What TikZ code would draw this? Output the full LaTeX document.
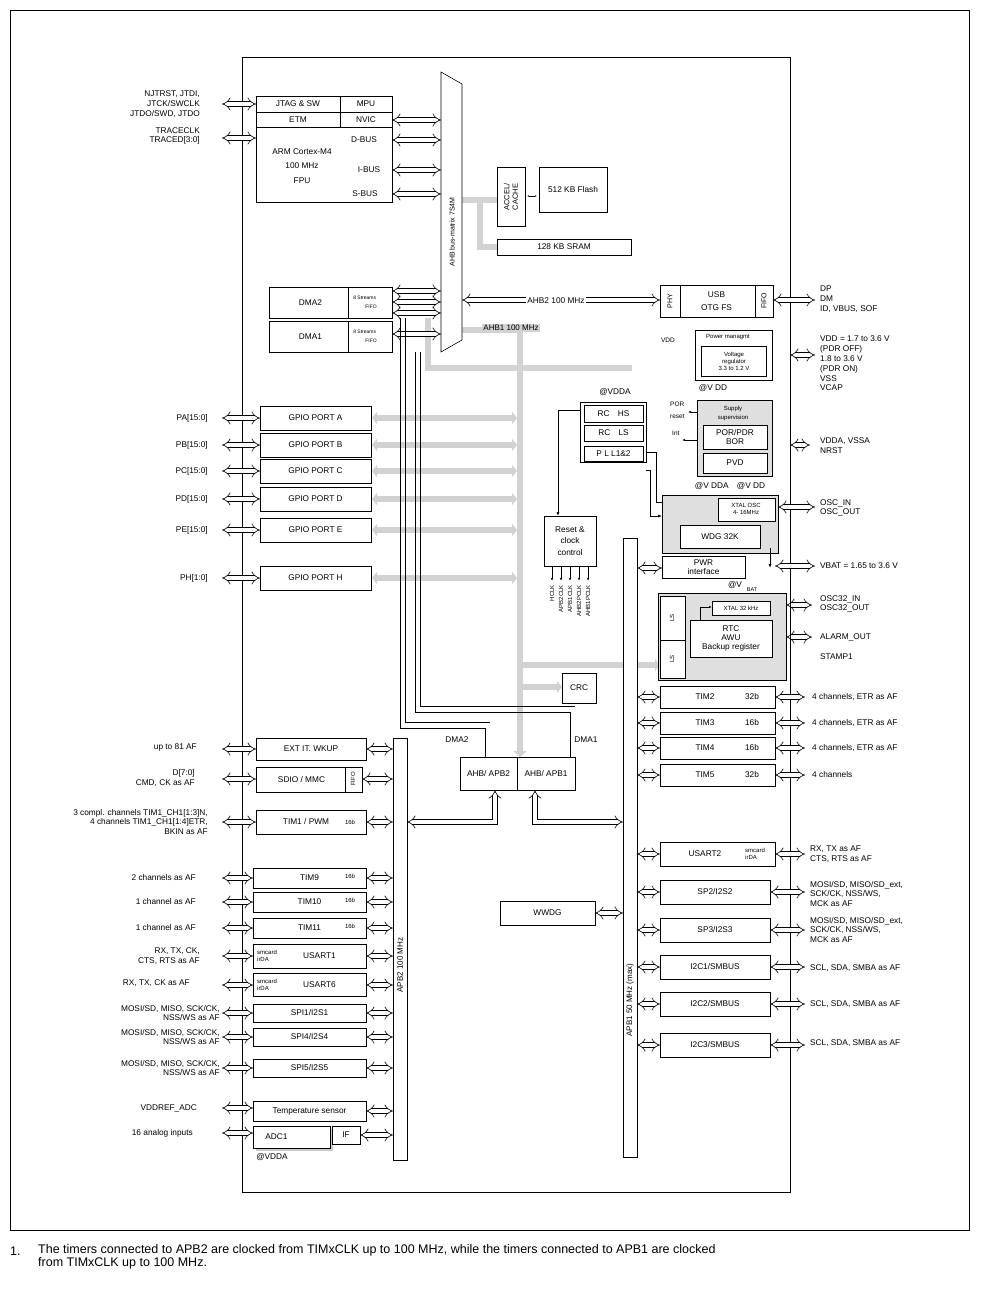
\documentclass[tikz,border=0pt]{standalone}
\usepackage{fontspec}
\setmainfont{Liberation Sans}
\usetikzlibrary{arrows.meta}
\begin{document}
\begin{tikzpicture}[x=1pt,y=-1pt,
 box/.style={draw,fill=white,line width=.6pt,inner sep=0pt,align=center,font=\fontsize{8.3}{9.3}\selectfont},
 gbx/.style={draw,fill=gray!25,line width=.6pt,inner sep=0pt},
 lbl/.style={inner sep=0pt,font=\fontsize{8.3}{9.8}\selectfont,align=left},
 rl/.style={inner sep=0pt,font=\fontsize{8.3}{9.8}\selectfont,align=right,anchor=east},
 tiny/.style={inner sep=0pt,font=\fontsize{5}{6}\selectfont,align=center},
 dbl/.style={draw,double,double distance=4pt,line width=.6pt,{Implies}-{Implies}},
 gbus/.style={draw=gray!35,line width=6pt},
 garr/.style={draw=gray!35,line width=6pt,{Triangle[length=5pt,width=12pt]}-{Triangle[length=5pt,width=12pt]}},
 thin/.style={draw,line width=.6pt}]
\newcommand\bx[6]{\node[box,minimum width={((#4)-(#2))*1pt},minimum height={((#5)-(#3))*1pt}] (#1) at ({((#2)+(#4))/2},{((#3)+(#5))/2}) {#6};}
\useasboundingbox (0,0) rectangle (981,1289);
\fill[white] (0,0) rectangle (981,1289);
\draw[line width=.8pt] (10,10) rectangle (969,1230);
\draw[line width=.8pt] (242,57) rectangle (790,1192);
% footnote
\node[anchor=west,inner sep=0pt,font=\fontsize{12.5}{13}\selectfont] (fn1) at (10,1251) {1.};
\node[anchor=north west,inner sep=0pt,font=\fontsize{12.5}{13.5}\selectfont,align=left] (fn) at (38,1244) {The timers connected to APB2 are clocked from TIMxCLK up to 100 MHz, while the timers connected to APB1 are clocked\\from TIMxCLK up to 100 MHz.};
% grey buses
\draw[gbus] (462,330) -- (520,330);
\draw[gbus,-{Triangle[length=6pt,width=13pt]}] (520,327) -- (520,757);
\draw[gbus] (428,318) -- (428,368) -- (632,368);
\draw[gbus] (462,200) -- (497,200);
\draw[gbus] (480,200) -- (480,247) -- (497,247);
\foreach \y in {418,445,471,499,530,578} \draw[garr] (372,\y) -- (517,\y);
\draw[gbus,-{Triangle[length=5pt,width=12pt]}] (520,665) -- (660,665);
\draw[gbus,-{Triangle[length=5pt,width=12pt]}] (520,687) -- (562,687);
\node[fill=gray!35,inner sep=1pt,font=\fontsize{8}{9}\selectfont] (ahb1) at (511,328) {AHB1 100 MHz};
% CPU
\draw[line width=.6pt] (256,96) rectangle (392,202);
\bx{jtag}{256}{96}{340}{112}{JTAG \& SW}
\bx{mpu}{340}{96}{392}{112}{MPU}
\bx{etm}{256}{112}{340}{127}{ETM}
\bx{nvic}{340}{112}{392}{127}{NVIC}
\node[lbl,align=center] (arm) at (302,166) {ARM Cortex-M4\\[5pt]100 MHz\\[5pt]FPU};
\node[lbl] (dbus) at (364,140) {D-BUS};
\node[lbl] (ibus) at (369,170) {I-BUS};
\node[lbl] (sbus) at (365,194) {S-BUS};
% bus matrix
\draw[line width=.6pt,fill=white] (441,72) -- (462,84) -- (462,340) -- (441,352) -- cycle;
\node[rotate=90,inner sep=0pt,font=\fontsize{7}{8}\selectfont] (mtx) at (452,232) {AHB bus-matrix 7S4M};
\foreach \y in {120,140,170,194} \draw[dbl] (392,\y) -- (441,\y);
\draw[dbl] (222,104) -- (256,104);
\draw[dbl] (222,138) -- (256,138);
\node[rl] (jl) at (200,104) {NJTRST, JTDI,\\JTCK/SWCLK\\JTDO/SWD, JTDO};
\node[rl] (tl) at (200,136) {TRACECLK\\TRACED[3:0]};
% flash
\bx{acc}{497}{167}{525}{226}{}
\node[rotate=90,inner sep=0pt,align=center,font=\fontsize{7.5}{8.5}\selectfont] (acct) at (511,197) {ACCEL/\\CACHE};
\bx{flash}{539}{167}{607}{212}{512 KB Flash}
\draw[line width=.5pt,{Latex[length=2pt]}-{Latex[length=2pt]}] (527,196) -- (537,196);
\bx{sram}{497}{239}{631}{255}{128 KB SRAM}
% USB
\draw[dbl] (462,300) -- (660,300);
\node[lbl,fill=white,inner sep=1pt] (ahb2) at (556,301) {AHB2 100 MHz};
\bx{usb}{660}{285}{773}{317}{USB\\[3pt]OTG FS}
\draw[line width=.6pt] (680,285) -- (680,317) (755,285) -- (755,317);
\node[rotate=90,tiny,font=\fontsize{7}{8}\selectfont] (phy) at (670,301) {PHY};
\node[rotate=90,tiny,font=\fontsize{7}{8}\selectfont] (fifo) at (764,301) {FIFO};
\draw[dbl] (773,300) -- (815,300);
\node[lbl,anchor=west] (usbl) at (820,299) {DP\\DM\\ID, VBUS, SOF};
% DMA
\bx{dma2}{269}{287}{392}{318}{DMA2\hspace{40pt}}
\bx{dma1}{269}{321}{392}{352}{DMA1\hspace{40pt}}
\draw[line width=.6pt] (348,287) -- (348,318) (348,321) -- (348,352);
\node[tiny,align=left] (s2) at (365,302) {8 Streams\\[3pt]\hspace{12pt}FIFO};
\node[tiny,align=left] (s1) at (365,336) {8 Streams\\[3pt]\hspace{12pt}FIFO};
\foreach \y in {291,302,313,334} \draw[dbl] (392,\y) -- (441,\y);
\draw[thin] (400,318) -- (400,728) -- (485,728) -- (485,757);
\draw[thin] (405,318) -- (405,722) -- (490,722);
\draw[thin] (415,352) -- (415,712) -- (570,712) -- (570,757);
\draw[thin] (420,352) -- (420,706) -- (575,706);
\node[lbl] (d2l) at (457,740) {DMA2};
\node[lbl] (d1l) at (586,740) {DMA1};
% GPIO
\foreach \n/\y/\p in {A/418/PA[15:0],B/445/PB[15:0],C/471/PC[15:0],D/499/PD[15:0],E/530/PE[15:0],H/578/PH[1:0]}{
 \bx{gp\n}{260}{\y-12}{371}{\y+12}{GPIO PORT \n}
 \draw[dbl] (222,\y) -- (260,\y);
 \node[rl] (gl\n) at (208,\y) {\p};}
% clocks
\draw[line width=.6pt] (580,402) rectangle (646,462);
\bx{rchs}{584}{405}{643}{422}{RC\quad HS}
\bx{rcls}{584}{425}{643}{441}{RC\quad LS}
\bx{pll}{584}{446}{643}{461}{P L L1\&2}
\node[lbl] (vdda1) at (615,392) {@VDDA};
\bx{rst}{544}{516}{596}{566}{Reset \&\\[2pt]clock\\[2pt]control}
\draw[thin,-{Latex[length=4pt]}] (580,410) -- (558,410) -- (558,516);
\draw[thin] (646,452) -- (656,452) -- (656,502) -- (662,502);
\draw[thin,-{Latex[length=4pt]}] (646,470) -- (650,470) -- (650,516) -- (662,516);
\foreach \x/\t in {552/HCLK,561/APB2CLK,570/APB1CLK,579/AHB2PCLK,588/AHB1PCLK}{
 \draw[thin,-{Latex[length=3pt]}] (\x,566) -- (\x,581);
 \node[rotate=90,anchor=east,inner sep=0pt,font=\fontsize{6}{7}\selectfont] (c\x) at (\x,585) {\t};}
% power
\bx{pm}{695}{330}{772}{380}{}
\node[tiny,font=\fontsize{6}{7}\selectfont] (pmt) at (728,337) {Power managmt};
\node[box,minimum width=65pt,minimum height=30pt,font=\fontsize{6}{7}\selectfont] (vreg) at (734,361) {Voltage\\regulator\\3.3 to 1.2 V};
\node[lbl,font=\fontsize{6.5}{7}\selectfont] (vddl) at (668,340) {VDD};
\node[lbl] (vddat) at (713,388) {@V DD};
\draw[dbl] (790,355) -- (815,355);
\node[lbl,anchor=north west] (vddr) at (820,336) {VDD = 1.7 to 3.6 V\\(PDR OFF)\\1.8 to 3.6 V\\(PDR ON)\\VSS\\VCAP};
\node[gbx,minimum width=75pt,minimum height=76pt] (sup) at (734.5,438) {};
\node[tiny,font=\fontsize{6}{7}\selectfont] (supt) at (733,413) {Supply\\[2pt]supervision};
\bx{por}{703}{425}{767}{449}{POR/PDR\\BOR}
\bx{pvd}{703}{453}{767}{473}{PVD}
\node[lbl,font=\fontsize{6.5}{7}\selectfont,anchor=west] (porl) at (670,404) {POR};
\node[lbl,font=\fontsize{6.5}{7}\selectfont,anchor=west] (resl) at (670,416) {reset};
\node[lbl,font=\fontsize{6.5}{7}\selectfont,anchor=west] (intl) at (672,433) {Int};
\draw[thin,-{Latex[length=3pt]}] (697,412) -- (688,412);
\draw[thin,-{Latex[length=3pt]}] (697,440) -- (682,440);
\draw[dbl] (790,445) -- (810,445);
\node[lbl,anchor=west] (vddal) at (820,446) {VDDA, VSSA\\NRST};
\node[lbl] (vat) at (730,486) {@V DDA\quad @V DD};
% WDG
\node[gbx,minimum width=116pt,minimum height=58pt] (oscg) at (720,524) {};
\bx{xtal}{718}{498}{775}{521}{}
\node[tiny,font=\fontsize{6}{7}\selectfont] (xt) at (746,509) {XTAL OSC\\4- 16MHz};
\bx{wdg}{680}{525}{760}{548}{WDG 32K}
\draw[dbl] (778,507) -- (815,507);
\node[lbl,anchor=west] (oscl) at (820,508) {OSC\_IN\\OSC\_OUT};
\bx{pwr}{662}{556}{745}{578}{PWR\\interface}
\draw[dbl] (637,568) -- (662,568);
\draw[line width=1pt,-{Latex[length=4pt]}] (770,548) -- (770,568);
\node[lbl] (vbat) at (735,585) {@V};
\node[lbl,font=\fontsize{5.5}{6}\selectfont] (vbat2) at (752,590) {BAT};
\draw[dbl] (775,566) -- (815,566);
\node[lbl,anchor=west] (vbatl) at (820,566) {VBAT = 1.65 to 3.6 V};
% RTC
\node[gbx,minimum width=128pt,minimum height=87pt] (rtcg) at (722,636.5) {};
\bx{ls1}{660}{596}{685}{640}{}
\bx{ls2}{660}{640}{685}{678}{}
\node[rotate=90,tiny,font=\fontsize{6}{7}\selectfont] (ls1t) at (672,618) {LS};
\node[rotate=90,tiny,font=\fontsize{6}{7}\selectfont] (ls2t) at (672,659) {LS};
\bx{x32}{712}{601}{770}{615}{}
\node[tiny,font=\fontsize{6}{7}\selectfont] (x32t) at (741,608) {XTAL 32 kHz};
\bx{rtc}{690}{620}{772}{657}{RTC\\AWU\\Backup register}
\draw[thin,-{Latex[length=3pt]}] (700,607) -- (712,607);
\draw[thin] (700,607) -- (700,620);
\draw[dbl] (786,605) -- (812,605);
\draw[dbl] (786,637) -- (812,637);
\node[lbl,anchor=west] (o32) at (820,604) {OSC32\_IN\\OSC32\_OUT};
\node[lbl,anchor=west] (alm) at (820,637) {ALARM\_OUT};
\node[lbl,anchor=west] (stp) at (820,657) {STAMP1};
\bx{crc}{562}{673}{596}{703}{CRC}
% APB buses
\bx{apb1}{623}{538}{637}{1157}{}
\node[rotate=90,inner sep=0pt,font=\fontsize{8}{9}\selectfont] (apb1t) at (630,1000) {APB1 50  MHz (max)};
\bx{apb2}{393}{738}{407}{1160}{}
\node[rotate=90,inner sep=0pt,font=\fontsize{8}{9}\selectfont] (apb2t) at (400,965) {APB2 100 MHz};
\bx{br2}{460}{757}{517}{790}{AHB/ APB2}
\bx{br1}{517}{757}{575}{790}{AHB/ APB1}
\draw[dbl] (495,790) -- (495,822) -- (407,822);
\draw[dbl] (535,790) -- (535,822) -- (623,822);
% APB1 peripherals
\foreach \n/\y/\b/\t in {TIM2/697/32b/{4 channels, ETR as AF},TIM3/723/16b/{4 channels, ETR as AF},TIM4/748/16b/{4 channels, ETR as AF},TIM5/775/32b/4 channels}{
 \bx{\n}{660}{\y-11}{775}{\y+11}{\n\hspace{25pt}}
 \node[lbl] (b\n) at (752,\y) {\b};
 \draw[dbl] (637,\y) -- (660,\y);
 \draw[dbl] (775,\y) -- (805,\y);
 \node[lbl,anchor=west] (l\n) at (812,\y) {\t};}
\bx{us2}{660}{842}{775}{866}{USART2\hspace{25pt}}
\node[tiny,font=\fontsize{6}{7}\selectfont,align=left] (us2s) at (755,854) {smcard\\irDA};
\draw[dbl] (637,854) -- (660,854);
\draw[dbl] (775,854) -- (805,854);
\node[lbl,anchor=west] (us2l) at (810,854) {RX, TX as AF\\CTS, RTS as AF};
\foreach \n/\y/\t in {SP2/892/{SP2/I2S2},SP3/930/{SP3/I2S3},I2C1/967/{I2C1/SMBUS},I2C2/1004/{I2C2/SMBUS},I2C3/1045/{I2C3/SMBUS}}{
 \bx{\n}{660}{\y-12}{770}{\y+12}{\t}
 \draw[dbl] (637,\y) -- (660,\y);
 \draw[dbl] (770,\y) -- (805,\y);}
\node[lbl,anchor=west] (sp2l) at (810,894) {MOSI/SD, MISO/SD\_ext,\\SCK/CK, NSS/WS,\\MCK as AF};
\node[lbl,anchor=west] (sp3l) at (810,930) {MOSI/SD, MISO/SD\_ext,\\SCK/CK, NSS/WS,\\MCK as AF};
\node[lbl,anchor=west] (i1l) at (810,968) {SCL, SDA, SMBA as AF};
\node[lbl,anchor=west] (i2l) at (810,1004) {SCL, SDA, SMBA as AF};
\node[lbl,anchor=west] (i3l) at (810,1043) {SCL, SDA, SMBA as AF};
\bx{wwdg}{500}{901}{595}{925}{WWDG}
\draw[dbl] (595,913) -- (623,913);
% APB2 peripherals
\bx{ext}{256}{738}{366}{760}{EXT IT. WKUP}
\draw[dbl] (222,749) -- (256,749); \draw[dbl] (366,749) -- (393,749);
\node[rl] (extl) at (197,747) {up to 81 AF};
\bx{sdio}{256}{767}{362}{792}{SDIO / MMC\hspace{15pt}}
\draw[line width=.6pt] (345,767) -- (345,792);
\node[rotate=90,tiny,font=\fontsize{6}{7}\selectfont] (sdf) at (353,779) {FIFO};
\draw[dbl] (222,779) -- (256,779); \draw[dbl] (362,779) -- (393,779);
\node[rl] (sdl) at (195,778) {D[7:0]\\CMD, CK as AF};
\bx{tim1}{256}{810}{366}{834}{TIM1 / PWM\hspace{10pt}}
\node[tiny,font=\fontsize{6}{7}\selectfont] (t1b) at (350,822) {16b};
\draw[dbl] (222,822) -- (256,822); \draw[dbl] (366,822) -- (393,822);
\node[rl] (t1l) at (208,822) {3 compl. channels TIM1\_CH1[1:3]N,\\4 channels TIM1\_CH1[1:4]ETR,\\BKIN as AF};
\foreach \n/\y/\t in {TIM9/878/{2 channels as AF},TIM10/902/{1 channel as AF},TIM11/928/{1 channel as AF}}{
 \bx{\n}{253}{\y-10}{366}{\y+10}{\n}
 \node[tiny,font=\fontsize{6}{7}\selectfont] (b\n) at (350,\y-2) {16b};
 \draw[dbl] (222,\y) -- (253,\y); \draw[dbl] (366,\y) -- (393,\y);
 \node[rl] (l\n) at (196,\y) {\t};}
\bx{us1}{253}{944}{366}{968}{\hspace{20pt}USART1}
\node[tiny,font=\fontsize{6}{7}\selectfont,align=left] (us1s) at (267,956) {smcard\\irDA};
\draw[dbl] (222,956) -- (253,956); \draw[dbl] (366,956) -- (393,956);
\node[rl] (us1l) at (200,956) {RX, TX, CK,\\CTS, RTS as AF};
\bx{us6}{253}{973}{366}{996}{\hspace{20pt}USART6}
\node[tiny,font=\fontsize{6}{7}\selectfont,align=left] (us6s) at (267,985) {smcard\\irDA};
\draw[dbl] (222,985) -- (253,985); \draw[dbl] (366,985) -- (393,985);
\node[rl] (us6l) at (190,983) {RX, TX, CK as AF};
\foreach \n/\y/\t in {SPI1/1013/{SPI1/I2S1},SPI4/1037/{SPI4/I2S4},SPI5/1068/{SPI5/I2S5}}{
 \bx{\n}{253}{\y-9}{366}{\y+9}{\t}
 \draw[dbl] (222,\y) -- (253,\y); \draw[dbl] (366,\y) -- (393,\y);
 \node[rl] (l\n) at (220,\y) {MOSI/SD, MISO, SCK/CK,\\NSS/WS as AF};}
\bx{temp}{253}{1101}{366}{1121}{Temperature sensor}
\fill[gray!40] (256,1129) rectangle (333,1151);
\bx{adc}{253}{1126}{330}{1148}{ADC1\hspace{30pt}}
\bx{if}{332}{1126}{360}{1144}{IF}
\draw[dbl] (222,1108) -- (253,1108); \draw[dbl] (366,1111) -- (393,1111);
\draw[dbl] (222,1133) -- (253,1133); \draw[dbl] (360,1135) -- (393,1135);
\node[rl] (vrefl) at (197,1108) {VDDREF\_ADC};
\node[rl] (anl) at (193,1133) {16 analog inputs};
\node[lbl] (vdda2) at (272,1157) {@VDDA};
\end{tikzpicture}
\end{document}
